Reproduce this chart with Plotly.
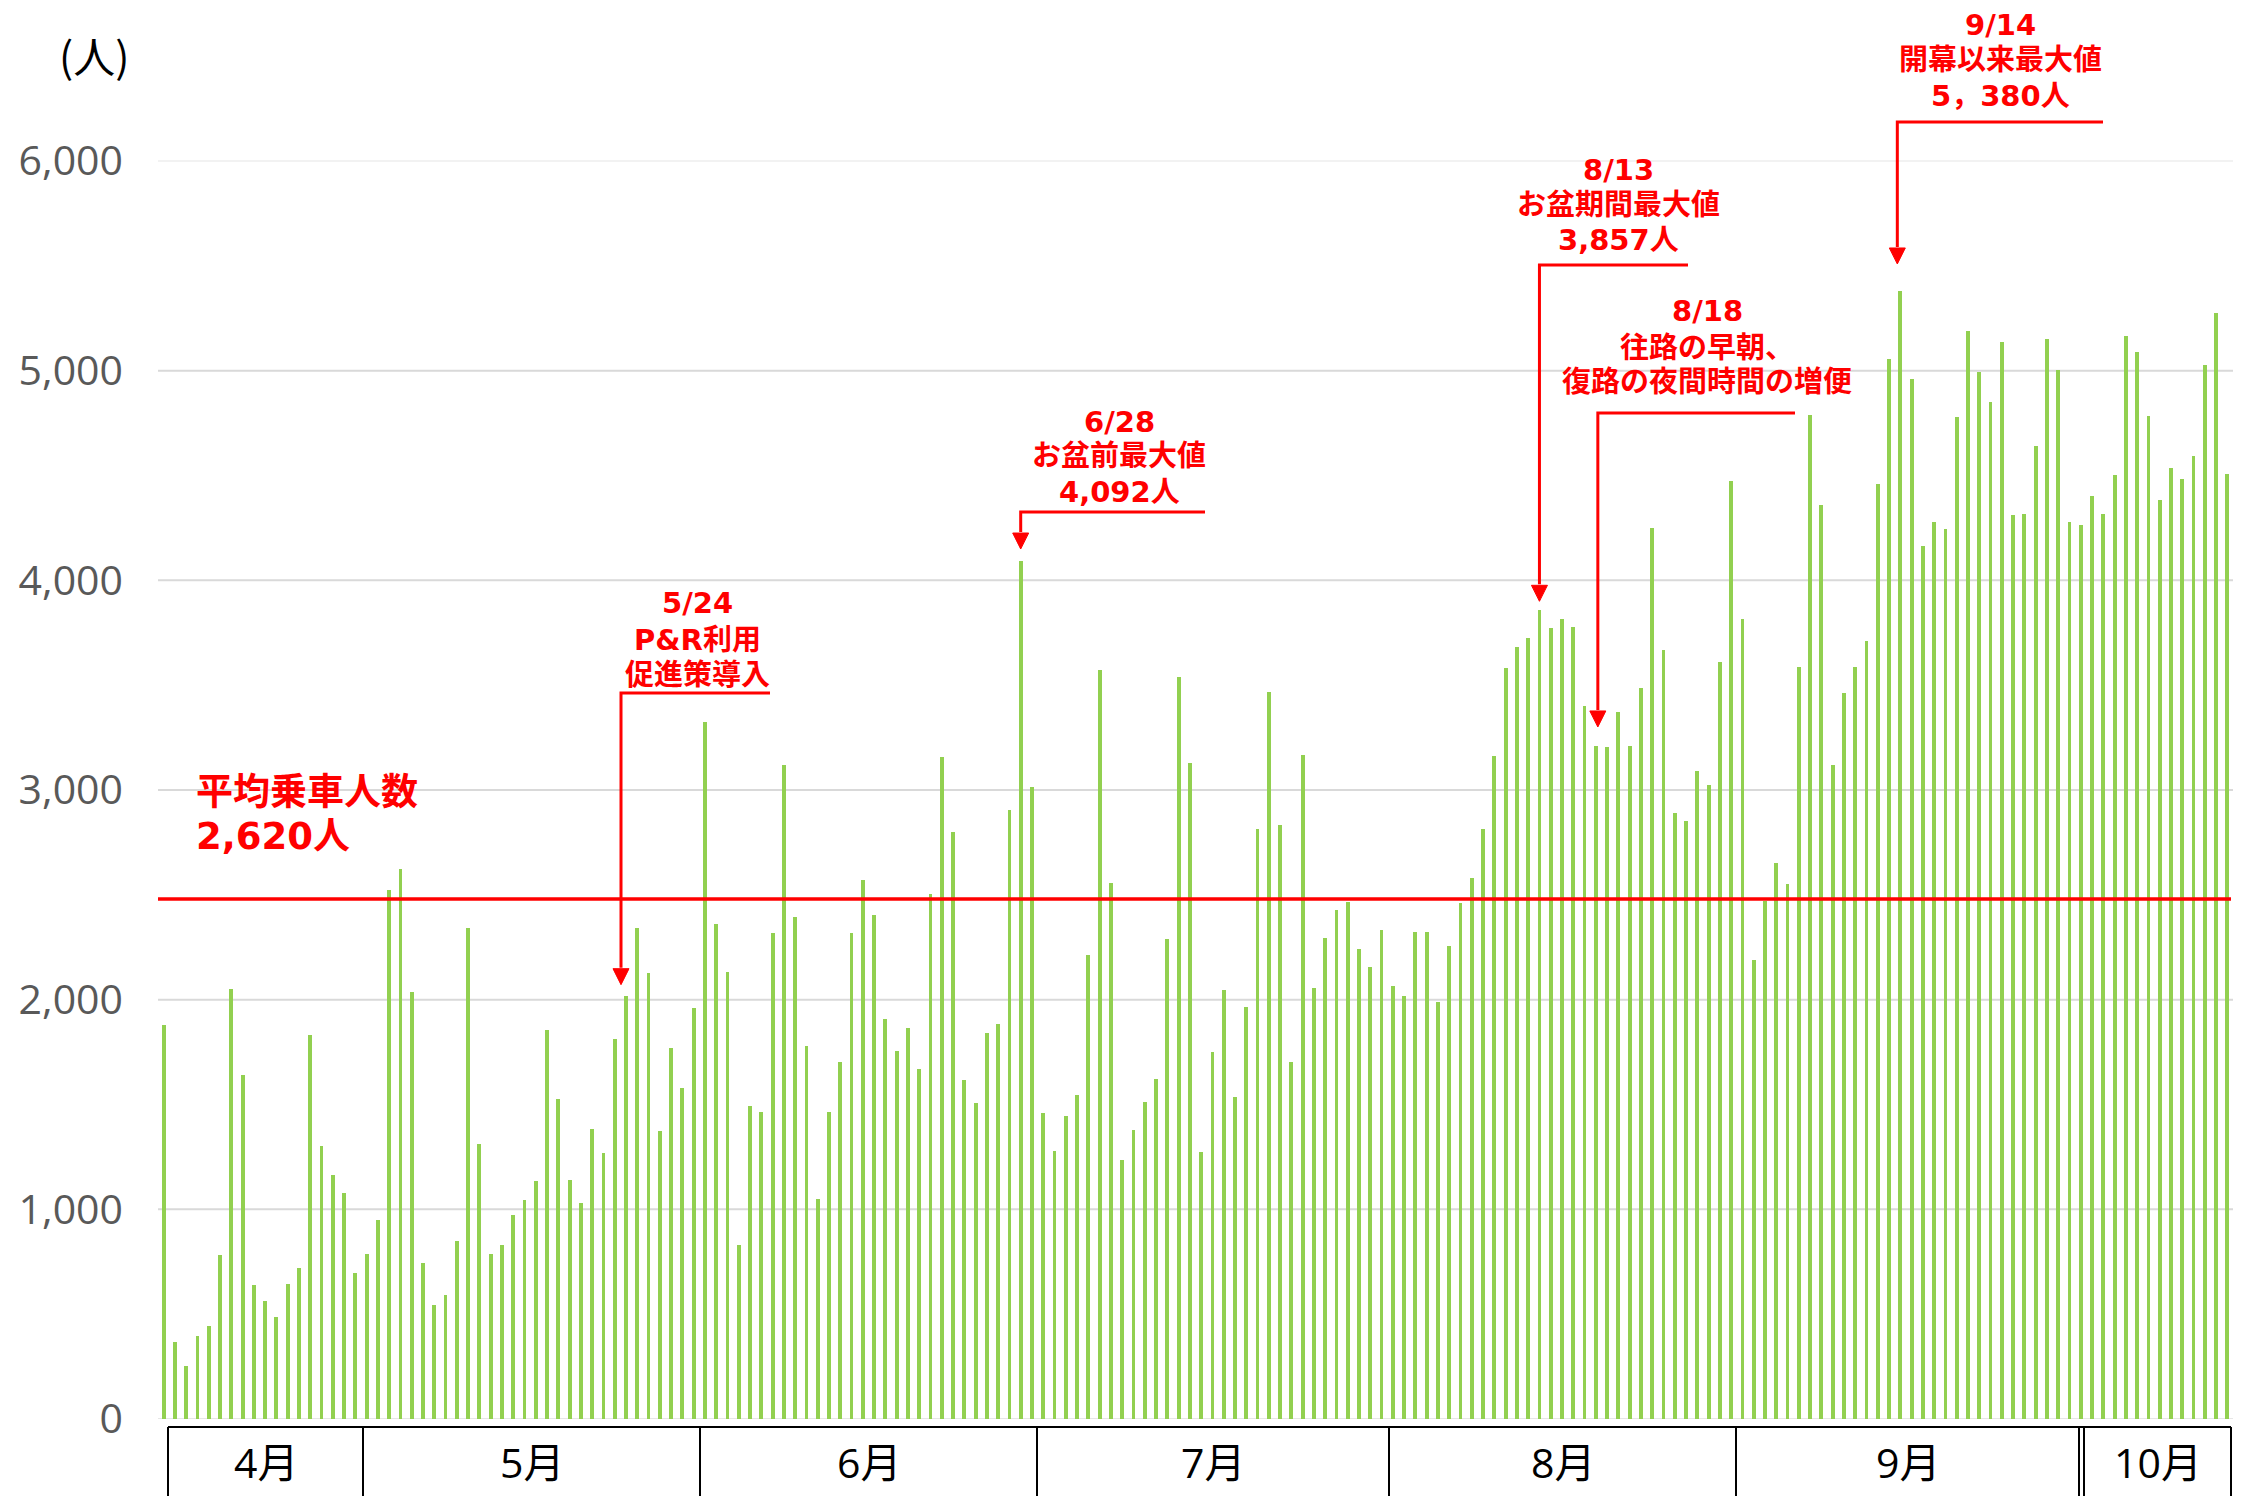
import pandas as pd
import plotly.graph_objects as go

# ---------------- data ----------------
apr = [1879, 367, 252, 396, 444, 783, 2051, 1642, 639, 562, 486, 642, 719, 1831, 1304, 1166, 1080, 696]
may = [786, 949, 2524, 2623, 2038, 744, 543, 591, 850, 2342, 1313, 786, 831, 974, 1045, 1137, 1856, 1527,
       1141, 1029, 1383, 1268, 1812, 2019, 2342, 2128, 1374, 1770, 1578, 1958, 3326]
jun = [2361, 2131, 831, 1492, 1463, 2319, 3118, 2396, 1780, 1048, 1463, 1703, 2316, 2572, 2403, 1907, 1754,
       1866, 1668, 2505, 3157, 2799, 1617, 1505, 1843, 1882, 2904, 4092, 3016, 1460]
jul = [1278, 1444, 1546, 2214, 3572, 2556, 1236, 1377, 1514, 1623, 2288, 3540, 3131, 1275, 1749, 2045, 1536,
       1963, 2816, 3468, 2835, 1704, 3169, 2056, 2292, 2427, 2468, 2240, 2157, 2333, 2064]
aug = [2019, 2322, 2322, 1989, 2255, 2461, 2581, 2813, 3161, 3584, 3682, 3723, 3857, 3775, 3816, 3779, 3401,
       3210, 3206, 3371, 3210, 3487, 4251, 3670, 2891, 2854, 3090, 3026, 3610, 4476, 3816]
sep = [2187, 2472, 2652, 2551, 3588, 4790, 4360, 3120, 3464, 3588, 3712, 4461, 5056, 5380, 4959, 4165, 4277,
       4247, 4779, 5191, 4993, 4850, 5139, 4311, 4318, 4640, 5150, 5004, 4277, 4262]
oct_ = [4401, 4318, 4502, 5165, 5090, 4783, 4382, 4536, 4483, 4592, 5026, 5273, 4506]

riders = apr + may + jun + jul + aug + sep + oct_
dates = [f"{d.month}/{d.day}" for d in pd.date_range("2025-04-13", "2025-10-13", freq="D")]
month_labels = ["4月", "5月", "6月", "7月", "8月", "9月", "10月"]
y_ticks = [0, 1000, 2000, 3000, 4000, 5000, 6000]
avg_line_value = 2480
avg_label = ["平均乗車人数", "2,620人"]

events = [
    ("5/24", ["5/24", "P&amp;R利用", "促進策導入"]),
    ("6/28", ["6/28", "お盆前最大値", "4,092人"]),
    ("8/13", ["8/13", "お盆期間最大値", "3,857人"]),
    ("8/18", ["8/18", "往路の早朝、", "復路の夜間時間の増便"]),
    ("9/14", ["9/14", "開幕以来最大値", "5，380人"]),
]

# ---------------- layout geometry (page pixels) ----------------
PAGE_OFF = 8                      # default body margin of the html page
W, H = 2250 - PAGE_OFF, 1496 - PAGE_OFF
L, R, T, B = 158, 2233, PAGE_OFF, 1419   # plot area in page pixels
N = len(riders)
PX_PER_UNIT = 209.67 / 1000.0
BAR_PX = (R - L) / N
YMAX = (B - T) / PX_PER_UNIT


def xpx(px):
    return (px - L) / BAR_PX - 0.5


def ypx(py):
    return (B - py) / PX_PER_UNIT


def paper_x(px):
    return (px - L) / (R - L)


def paper_y(py):
    return (B - py) / (B - T)


RED = "#FF0000"
GREEN = "#92D050"
ANN_FONT = "DejaVu Sans, Noto Sans CJK JP"

# event layout: text centre x, line y's, bracket y, bracket right end, gap above bar, arrow dx
event_layout = {
    "5/24": (697, [603, 640, 675], 693, 770, 11, -5),
    "6/28": (1119, [422, 456, 492], 512, 1205, 12, 0),
    "8/13": (1618, [170, 205, 240], 265, 1688, 9, 0),
    "8/18": (1707, [311, 348, 382], 413, 1795, 19, 2),
    "9/14": (2000, [25, 60, 96], 122, 2103, 27, -3),
}

month_edges_px = [168, 363, 700, 1037, 1389, 1736, 2079, 2231]

fig = go.Figure()
fig.add_trace(go.Bar(
    x=list(range(N)), y=riders, width=0.34,
    marker=dict(color=GREEN, line=dict(width=0)),
    customdata=dates, hovertemplate="%{customdata}: %{y:,}人<extra></extra>",
))

shapes = []
annotations = []

# gridlines
for v in y_ticks:
    col = "#F2F2F2" if v == 6000 else ("#E6E6E6" if v == 0 else "#D9D9D9")
    shapes.append(dict(type="line", xref="x", yref="y", x0=-0.5, x1=N - 0.5, y0=v, y1=v,
                       line=dict(color=col, width=2), layer="below"))

# average line
shapes.append(dict(type="line", xref="x", yref="y", x0=-0.5, x1=xpx(2231), y0=avg_line_value,
                   y1=avg_line_value, line=dict(color=RED, width=3.5), layer="above"))
for txt, py in zip(avg_label, [792, 836]):
    annotations.append(dict(text=f"<b>{txt}</b>", xref="paper", yref="paper", x=paper_x(194), y=paper_y(py),
                            xanchor="left", yanchor="middle", showarrow=False,
                            font=dict(size=37, color=RED, family=ANN_FONT)))

# event annotations
for date, lines in events:
    cx, ys, by, bright, gap, dx = event_layout[date]
    idx = dates.index(date)
    val = riders[idx]
    tx = idx + dx / BAR_PX
    tip = val + gap / PX_PER_UNIT
    base = tip + 16 / PX_PER_UNIT
    hw = 8 / BAR_PX
    shapes.append(dict(type="path", xref="x", yref="y",
                       path=f"M {xpx(bright)},{ypx(by)} L {tx},{ypx(by)} L {tx},{base + 1 / PX_PER_UNIT}",
                       line=dict(color=RED, width=3), layer="above"))
    shapes.append(dict(type="path", xref="x", yref="y",
                       path=f"M {tx - hw},{base} L {tx + hw},{base} L {tx},{tip} Z",
                       fillcolor=RED, line=dict(color=RED, width=1), layer="above"))
    for ln, py in zip(lines, ys):
        annotations.append(dict(text=f"<b>{ln}</b>", xref="paper", yref="paper", x=paper_x(cx), y=paper_y(py),
                                xanchor="center", yanchor="middle", showarrow=False,
                                font=dict(size=29, color=RED, family=ANN_FONT)))

# month boxes below the axis
top_y = paper_y(1427)
bot_y = paper_y(1500)
shapes.append(dict(type="line", xref="x", yref="paper", x0=xpx(month_edges_px[0]), x1=xpx(month_edges_px[-1]),
                   y0=top_y, y1=top_y, line=dict(color="black", width=2)))
for e in month_edges_px + [2084]:
    shapes.append(dict(type="line", xref="x", yref="paper", x0=xpx(e), x1=xpx(e), y0=top_y, y1=bot_y,
                       line=dict(color="black", width=2)))
for i, m in enumerate(month_labels):
    cx = (month_edges_px[i] + month_edges_px[i + 1]) / 2
    if i == len(month_labels) - 1:
        cx = (2084 + month_edges_px[-1]) / 2
    annotations.append(dict(text=m, xref="paper", yref="paper", x=paper_x(cx), y=paper_y(1462),
                            xanchor="center", yanchor="middle", showarrow=False,
                            font=dict(size=41, color="black", family="Open Sans, Noto Sans CJK JP")))

# unit label
annotations.append(dict(text="(人)", xref="paper", yref="paper", x=paper_x(94), y=paper_y(55),
                        xanchor="center", yanchor="middle", showarrow=False,
                        font=dict(size=42, color="black", family="Noto Sans CJK JP")))

fig.update_layout(
    width=W, height=H, autosize=False,
    margin=dict(l=L - PAGE_OFF, r=W - (R - PAGE_OFF), t=T - PAGE_OFF, b=H - (B - PAGE_OFF), pad=0),
    paper_bgcolor="white", plot_bgcolor="white",
    showlegend=False, bargap=0,
    shapes=shapes, annotations=annotations,
    xaxis=dict(range=[-0.5, N - 0.5], showticklabels=False, showgrid=False, zeroline=False,
               showline=False, ticks="", fixedrange=True),
    yaxis=dict(range=[0, YMAX], tickvals=y_ticks, tickformat=",", showgrid=False, zeroline=False,
               showline=False, ticks="", ticklabelstandoff=34,
               tickfont=dict(size=41, color="#595959", family="Open Sans, Noto Sans")),
)

fig.write_html("out.html")
